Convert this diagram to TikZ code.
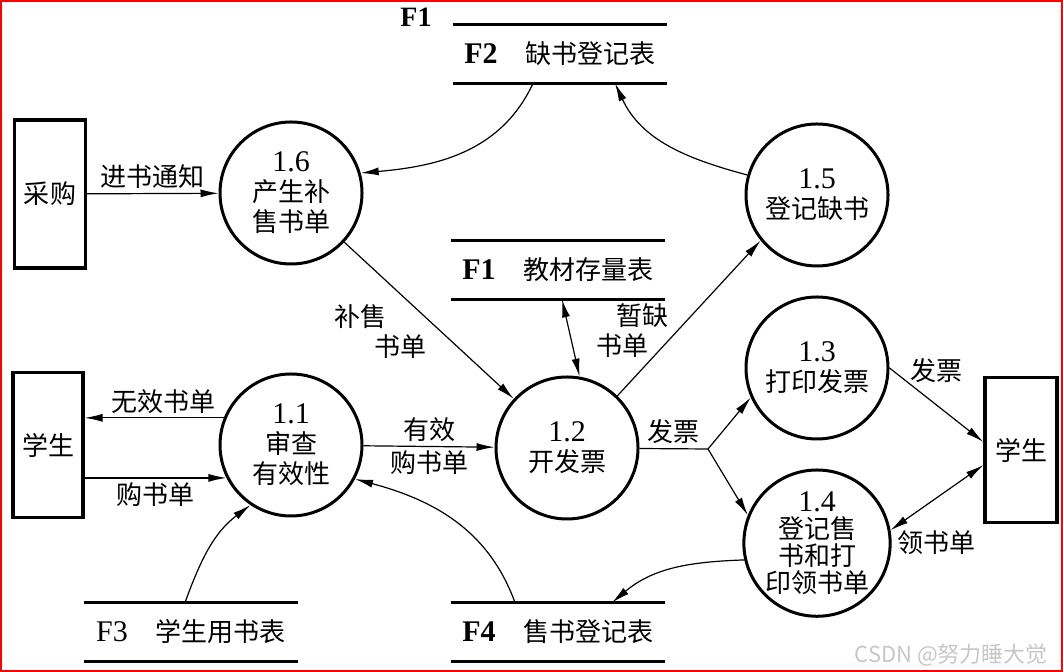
\documentclass[tikz,border=0pt]{standalone}
\usepackage{fontspec}
\setmainfont{Liberation Serif}
\newfontfamily\cjk{Noto Sans CJK SC}
\usetikzlibrary{positioning,arrows.meta}
\newcommand{\pnum}[1]{{\rmfamily\fontsize{15}{15}\selectfont #1}}
\tikzset{
  main/.style={circle, minimum size = 71pt, inner sep = 0pt, line width = 1.5pt, draw = black, align = center, font = \cjk\fontsize{13}{15}\selectfont},
  ext/.style={rectangle, line width = 1.6pt, draw = black, font = \cjk\fontsize{13}{15}\selectfont},
  store/.style={rectangle, minimum width = 107pt, minimum height = 29pt, inner sep = 0pt, font = \cjk\fontsize{13}{15}\selectfont},
  storeline/.style={line width = 1.6pt},
  connect/.style={-{Latex[length = 9pt, width = 4pt]}, line width = 0.6pt},
  twoway/.style={{Latex[length = 9pt, width = 4pt]}-{Latex[length = 9pt, width = 4pt]}, line width = 0.6pt},
  lbl/.style={font = \cjk\fontsize{13}{15}\selectfont, inner sep = 2pt}
}
\begin{document}
\begin{tikzpicture}[x = 0.5pt, y = 0.5pt]
    \useasboundingbox (0,0) rectangle (1063,672);
    \draw[red, line width = 1pt] (1,1) rectangle (1062,671);

    \node[ext, minimum width = 35.5pt, minimum height = 74pt] (Purchase) at (50,478) {采购};
    \node[ext, minimum width = 35pt, minimum height = 72.5pt] (StuL) at (48,227) {学生};
    \node[ext, minimum width = 36pt, minimum height = 72.5pt] (StuR) at (1021,222) {学生};

    \node[main] (P6) at (291,479) {\pnum{1.6}\\产生补\\售书单};
    \node[main] (P1) at (291,227) {\pnum{1.1}\\审查\\有效性};
    \node[main] (P2) at (567,224) {\pnum{1.2}\\开发票};
    \node[main] (P5) at (817,477) {\pnum{1.5}\\登记缺书};
    \node[main] (P3) [below = 14pt of P5] {\pnum{1.3}\\打印发票};
    \node[main, font = \cjk\fontsize{13}{13.5}\selectfont] (P4) [below = 14pt of P3] {\pnum{1.4}\\登记售\\书和打\\印领书单};

    \node[store] (F2) at (560,618) {\pnum{\textbf{F2}}\hspace{14pt}缺书登记表};
    \node[store] (F1) at (558,402) {\pnum{\textbf{F1}}\hspace{14pt}教材存量表};
    \node[store] (F3) at (191,40) {\pnum{F3}\hspace{14pt}学生用书表};
    \node[store] (F4) at (558,40) {\pnum{\textbf{F4}}\hspace{14pt}售书登记表};
    \foreach \s in {F1,F2,F3,F4}
        \draw[storeline] (\s.north west) -- (\s.north east) (\s.south west) -- (\s.south east);
    \node[font = \bfseries\fontsize{14}{16}\selectfont] (Ftop) at (416,655) {F1};

    \path (Purchase) edge [connect] node[lbl, above] {进书通知} (P6);
    \draw[connect] ([xshift = -13.5pt]F2.south) to [out = 245, in = 5] (P6.16);
    \draw[connect] (P5.164) to [out = 165, in = -65] ([xshift = 27.5pt]F2.south);
    \path (P6) edge [connect] node[lbl, pos = 0.57, left = 5pt, align = left] {补售\\\hspace*{20pt}书单} (P2);
    \path (P1.158) edge [connect] node[lbl, above, pos = 0.43] {无效书单} (P1.158 -| StuL.east);
    \path (P1.207 -| StuL.east) edge [connect] node[lbl, below] {购书单} (P1.207);
    \draw[connect] ([xshift = -3pt]F3.north) to [out = 70, in = 217] (P1.236);
    \path (P1) edge [connect] node[lbl, above] {有效} node[lbl, below] {购书单} (P2);
    \draw[connect] ([xshift = -21.5pt]F4.north) to [out = 110, in = -15] (P1.-28);
    \path ([xshift = 2pt]F1.south) edge [twoway] (P2.80);
    \path (P2.46) edge [connect] node[lbl, pos = 0.42, left = 2pt, align = left] {\hspace*{10pt}暂缺\\书单} (P5.219);

    \coordinate (Split) at (708,223);
    \draw[line width = 0.6pt] (P2) -- node[lbl, above] {发票} (Split);
    \path (Split) edge [connect] (P3.204)
          (Split) edge [connect] (P4.158);
    \path (P3.east) edge [connect] node[lbl, above = 9pt] {发票} ([yshift = 4pt]StuR.west);
    \path (P4.10) edge [twoway] node[lbl, below = 14pt] {领书单} ([yshift = -7.5pt]StuR.west);
    \draw[connect] (P4.193) to [out = 182, in = 40] ([xshift = 27pt]F4.north);

    \node[anchor = east, text = black!22, font = \cjk\fontsize{11}{13}\selectfont] (Mark) at (1055,17) {CSDN @努力睡大觉};
\end{tikzpicture}
\end{document}
